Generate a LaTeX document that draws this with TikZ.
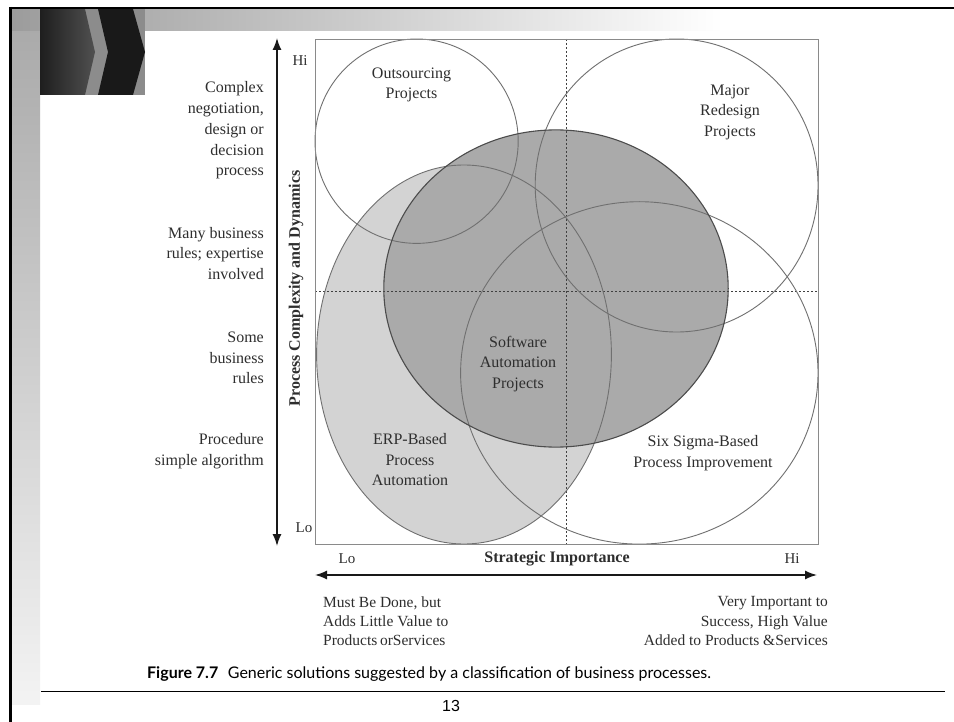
\documentclass[tikz,border=0pt]{standalone}
\usepackage{fontspec}
\setmainfont{Liberation Serif}
\newfontfamily\capfont{Lato}
\newfontfamily\numfont{Liberation Sans}
\usetikzlibrary{arrows.meta}

\definecolor{ink}{HTML}{2E2E2E}
\definecolor{ringline}{HTML}{707070}
\definecolor{erpfill}{HTML}{D3D3D3}
\definecolor{swfill}{HTML}{AAAAAA}
\definecolor{swline}{HTML}{4C4C4C}
\definecolor{bandgray}{HTML}{9C9C9C}
\definecolor{stripgray}{HTML}{A8A8A8}
\definecolor{stripmid}{HTML}{DCDCDC}
\definecolor{stripend}{HTML}{F3F3F3}
\definecolor{gapgray}{HTML}{8C8C8C}
\definecolor{chevdark}{HTML}{1E1E1E}
\definecolor{chevmid}{HTML}{505050}
\definecolor{boxline}{HTML}{8A8A8A}

\begin{document}
\begin{tikzpicture}[x=1pt,y=-1pt,
  lbl/.style={font=\fontsize{16}{20.5}\selectfont, text=ink, align=center, inner sep=0pt},
  side/.style={font=\fontsize{16}{20.7}\selectfont, text=ink, align=right, anchor=east, inner sep=0pt},
  tick/.style={font=\fontsize{15}{18}\selectfont, text=ink, inner sep=0pt},
  axtitle/.style={font=\bfseries\fontsize{16}{18}\selectfont, text=ink, inner sep=0pt},
  note/.style={font=\fontsize{15.5}{19.2}\selectfont, text=ink, inner sep=0pt},
  ring/.style={draw=ringline, line width=0.9pt},
  guide/.style={draw=black!75, line width=0.8pt, dash pattern=on 2pt off 2pt},
  axis/.style={line width=1.5pt, draw=black!90,
    {Latex[length=12pt,width=9pt]}-{Latex[length=12pt,width=9pt]}},
]
\useasboundingbox (0,0) rectangle (954,722);
\fill[white] (0,0) rectangle (954,722);

% ---- slide frame: left strip, top band, chevrons ----
\shade[top color=stripgray, middle color=stripmid, bottom color=stripend] (12,9) rectangle (40,704);
\shade[left color=bandgray, right color=white] (12,9) rectangle (723,31);
\fill[gapgray] (40,9) rectangle (145,95);
\shade[left color=chevdark, right color=chevmid]
  (40,9) -- (85,9) -- (95,52) -- (85,95) -- (40,95) -- cycle;
\fill[chevdark!85!black]
  (98,9) -- (133,9) -- (145,52) -- (133,95) -- (98,95) -- (108,52) -- cycle;
\draw[line width=2.6pt] (10,8) -- (954,8);
\draw[line width=2.6pt] (10.7,7) -- (10.7,722);

% ---- filled regions ----
\fill[erpfill] (464,354.5) ellipse [x radius=147.4, y radius=189.5];
\fill[swfill] (556,288.5) ellipse [x radius=172.2, y radius=158.6];

% ---- quadrant guides ----
\draw[guide] (566.5,39) -- (566.5,544);
\draw[guide] (315,291.5) -- (818,291.5);

% ---- outlines ----
\draw[ring] (464,354.5) ellipse [x radius=147.4, y radius=189.5];
\draw[ring] (416.6,141.2) ellipse [x radius=101.6, y radius=102.2];
\draw[ring] (676.6,185.5) ellipse [x radius=141.4, y radius=146.5];
\draw[ring] (639.3,372.9) ellipse [x radius=178.7, y radius=171.2];
\draw[draw=swline, line width=1.1pt] (556,288.5) ellipse [x radius=172.2, y radius=158.6];
\draw[draw=boxline, line width=0.8pt] (315,39) rectangle (818,544);

% ---- region labels ----
\node[lbl] (outs)  at (411.5,84.7) {Outsourcing\\Projects};
\node[lbl] (major) at (730,112.3) {Major\\Redesign\\Projects};
\node[lbl] (soft)  at (518,363.6) {Software\\Automation\\Projects};
\node[lbl] (erp)   at (410,459.8) {ERP-Based\\Process\\Automation};
\node[lbl] (six)   at (703,453) {Six Sigma-Based\\Process Improvement};

% ---- vertical axis ----
\coordinate (vtop) at (277,38);
\coordinate (vbot) at (277,546);
\draw[axis] (vbot) -- (vtop);
\node[tick] (vhi) at (300,61) {Hi};
\node[tick] (vlo) at (304,528) {Lo};
\node[axtitle, rotate=90] (vtitle) at (296,288.5) {Process Complexity and Dynamics};

\node[side] (lv1) at (264,130.5) {Complex\\negotiation,\\design or\\decision\\process};
\node[side] (lv2) at (264,253.5) {Many business\\rules; expertise\\involved};
\node[side] (lv3) at (264,358) {Some\\business\\rules};
\node[side] (lv4) at (264,451) {Procedure\\simple algorithm};

% ---- horizontal axis ----
\coordinate (hleft) at (315,575);
\coordinate (hright) at (817,575);
\draw[axis] (hleft) -- (hright);
\node[tick] (hlo) at (347,559) {Lo};
\node[axtitle] (htitle) at (557,559) {Strategic Importance};
\node[tick] (hhi) at (792,559) {Hi};

\node[note, align=left, anchor=west] (lowimp) at (323,621)
  {Must Be Done, but\\Adds Little Value to\\Products\,orServices};
\node[note, align=right, anchor=east] (highimp) at (828,621)
  {Very Important to\\Success, High Value\\Added to Products \&Services};

% ---- caption and page footer ----
\node[anchor=west, inner sep=0pt, font=\capfont\fontsize{16}{18}\selectfont] (cap) at (147,674)
  {\textbf{Figure 7.7}\hspace{0.6em}Generic solutions suggested by a classification of business processes.};
\coordinate (rulel) at (41,691);
\coordinate (ruler) at (945,691);
\draw[line width=1pt] (rulel) -- (ruler);
\node[inner sep=0pt, font=\numfont\fontsize{16}{18}\selectfont] (pg) at (451,706) {13};
\end{tikzpicture}
\end{document}
